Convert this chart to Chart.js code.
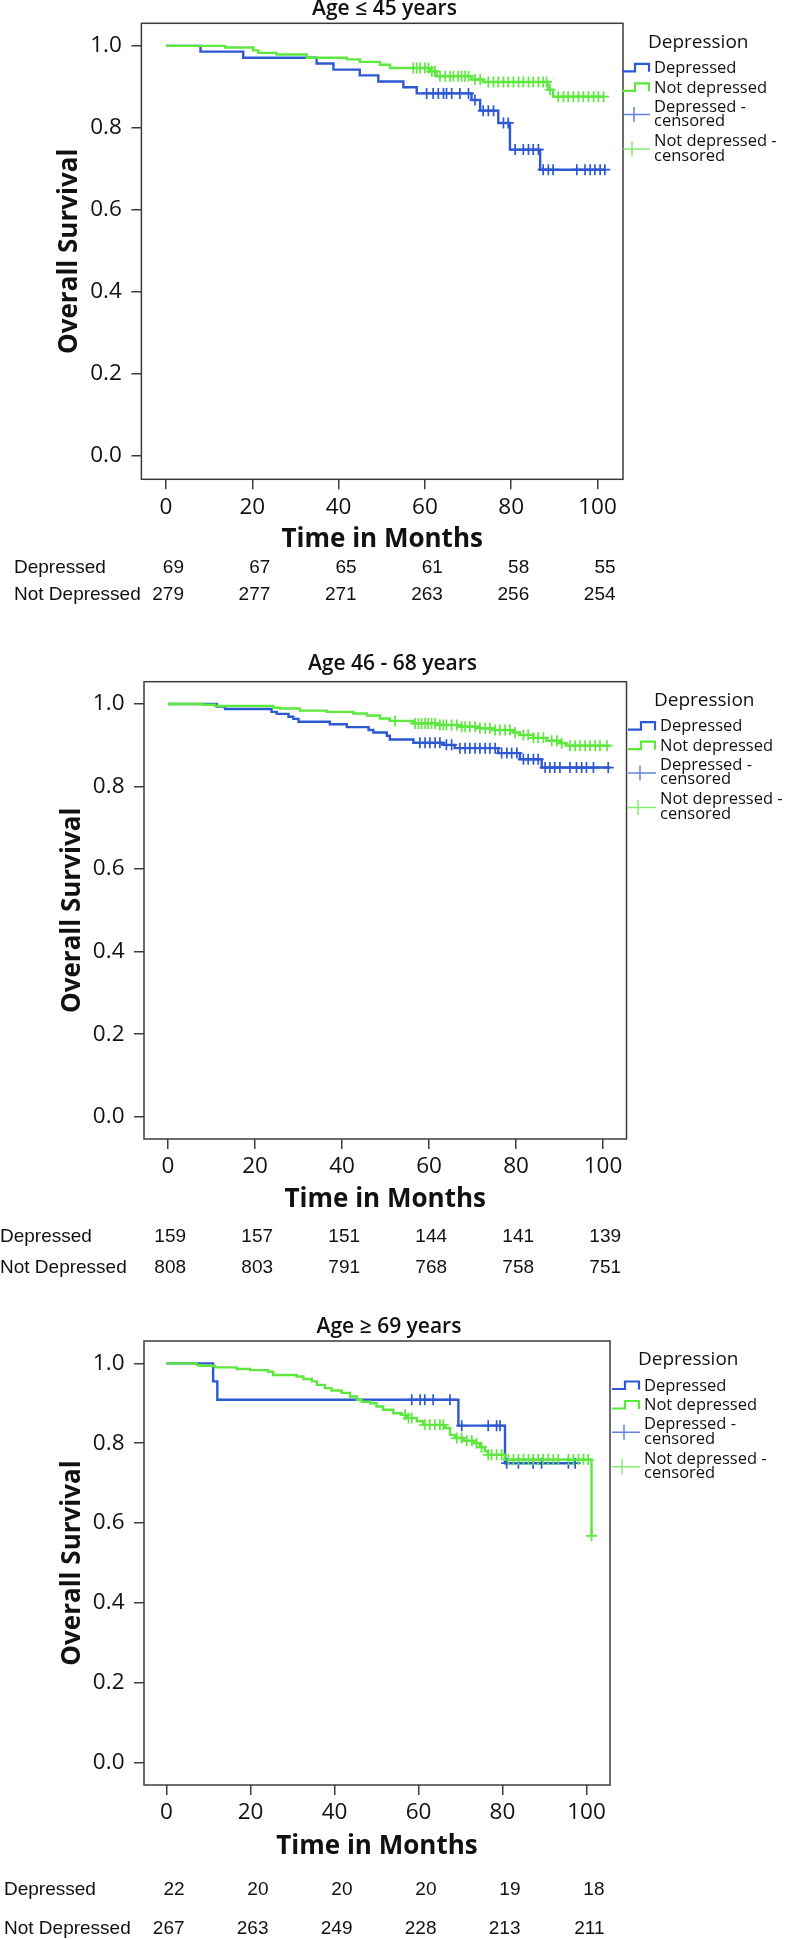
<!DOCTYPE html>
<html>
<head>
<meta charset="utf-8">
<script src="https://cdn.jsdelivr.net/npm/chart.js@4.4.1/dist/chart.umd.min.js"></script>
<style>
  html, body { margin: 0; padding: 0; background: #fff; }
  body { width: 786px; height: 1940px; position: relative; overflow: hidden; }
  .panel { position: absolute; left: 0; width: 786px; }
</style>
</head>
<body>
<div class="panel" style="top:0px;height:620px"><canvas id="km1" width="786" height="620"></canvas></div>
<div class="panel" style="top:640px;height:650px"><canvas id="km2" width="786" height="650"></canvas></div>
<div class="panel" style="top:1290px;height:650px"><canvas id="km3" width="786" height="650"></canvas></div>
<script>
// axis ticks and labels
const xTicks = [0, 20, 40, 60, 80, 100];
const yTicks = [0, 0.2, 0.4, 0.6, 0.8, 1.0];
const panelTitles = ["Age ≤ 45 years", "Age 46 - 68 years", "Age ≥ 69 years"];
const legendTitle = "Depression";
const legendLabels = ["Depressed", "Not depressed", ["Depressed -", "censored"], ["Not depressed -", "censored"]];
const riskLabels = ["Depressed", "Not Depressed"];

// Age <= 45
const youngDepTime = [0, 8.0, 17.9, 34.9, 38.8, 44.9, 49.2, 55.0, 58.1, 70.8, 72.8, 77.0, 79.7, 86.7, 101.7];
const youngDepSurv = [1.0, 0.986, 0.971, 0.957, 0.942, 0.928, 0.913, 0.899, 0.884, 0.868, 0.842, 0.812, 0.747, 0.698, 0.698];
const youngDepCens = [60.4, 61.9, 63.1, 64.3, 65.0, 66.2, 68.1, 70.1, 71.6, 73.5, 74.7, 75.9, 78.2, 79.3, 80.9, 82.8, 84.0, 85.1, 86.3, 87.4, 88.6, 89.7, 95.2, 97.1, 98.3, 99.4, 100.6, 101.7];
const youngNotTime = [0, 13.7, 20.2, 21.4, 25.6, 32.6, 41.9, 44.9, 49.6, 51.9, 61.2, 62.7, 70.8, 73.5, 88.6, 89.7, 101.7];
const youngNotSurv = [1.0, 0.996, 0.989, 0.983, 0.979, 0.971, 0.967, 0.961, 0.954, 0.946, 0.938, 0.926, 0.918, 0.912, 0.893, 0.876, 0.876];
const youngNotCens = [57.3, 58.1, 58.9, 60.0, 60.8, 61.6, 62.3, 63.5, 64.7, 65.8, 66.6, 67.7, 68.5, 69.3, 70.1, 71.6, 72.8, 74.7, 75.9, 77.0, 78.2, 79.3, 80.5, 81.7, 82.8, 84.0, 85.1, 86.3, 87.4, 88.2, 89.0, 90.9, 92.1, 93.2, 94.4, 95.6, 96.7, 97.9, 99.1, 100.2, 101.4];
const youngRiskDep = [69, 67, 65, 61, 58, 55];
const youngRiskNot = [279, 277, 271, 263, 256, 254];

// Age 46 - 68
const midDepTime = [0, 11.2, 13.1, 23.8, 25.0, 27.7, 28.8, 30.0, 37.2, 41.1, 46.1, 47.2, 50.3, 51.0, 56.4, 63.3, 65.9, 75.9, 80.9, 85.9, 101.6];
const midDepSurv = [1.0, 0.994, 0.988, 0.981, 0.976, 0.969, 0.964, 0.957, 0.951, 0.944, 0.937, 0.931, 0.923, 0.914, 0.906, 0.901, 0.893, 0.881, 0.866, 0.846, 0.846];
const midDepCens = [57.9, 59.1, 60.2, 61.4, 62.5, 64.0, 65.2, 67.1, 68.3, 69.4, 70.6, 71.7, 72.9, 74.0, 75.2, 76.7, 77.9, 79.0, 80.2, 81.7, 82.8, 84.0, 85.1, 86.7, 87.8, 88.9, 90.1, 92.4, 93.9, 95.1, 96.2, 97.8, 101.2];
const midNotTime = [0, 8.1, 10.8, 24.2, 25.7, 30.3, 36.5, 42.6, 45.7, 48.7, 51.0, 56.4, 61.8, 67.1, 71.7, 74.8, 79.4, 80.9, 84.0, 87.0, 90.1, 91.6, 101.6];
const midNotSurv = [1.0, 0.998, 0.995, 0.991, 0.989, 0.984, 0.981, 0.977, 0.972, 0.965, 0.959, 0.953, 0.949, 0.945, 0.941, 0.937, 0.931, 0.925, 0.918, 0.911, 0.905, 0.899, 0.899];
const midNotCens = [52.2, 56.8, 57.6, 58.3, 59.1, 59.8, 60.6, 61.4, 62.5, 63.3, 64.0, 65.2, 66.4, 67.5, 68.3, 69.4, 70.6, 71.7, 72.9, 74.0, 75.2, 76.3, 77.5, 78.6, 79.8, 81.7, 82.8, 84.0, 85.1, 86.3, 88.2, 89.4, 90.5, 92.4, 93.6, 94.7, 95.9, 97.0, 98.2, 99.3, 100.9];
const midRiskDep = [159, 157, 151, 144, 141, 139];
const midRiskNot = [808, 803, 791, 768, 758, 751];

// Age >= 69
const oldDepTime = [0, 11.1, 12.1, 69.5, 80.6, 97.3];
const oldDepSurv = [1.0, 0.955, 0.909, 0.844, 0.750, 0.750];
const oldDepCens = [58.4, 60.4, 61.5, 63.5, 67.5, 70.3, 76.6, 78.6, 79.4, 81.0, 83.8, 87.3, 89.3, 95.7, 97.3];
const oldNotTime = [0, 7.2, 8.0, 11.5, 16.7, 19.9, 24.2, 25.4, 31.0, 32.6, 34.6, 35.8, 37.7, 39.3, 41.7, 43.7, 45.3, 46.5, 48.5, 50.0, 51.6, 54.0, 56.0, 57.2, 59.6, 61.1, 66.3, 67.5, 68.7, 70.7, 73.1, 74.6, 75.8, 76.6, 80.6, 101.2];
const oldNotSurv = [1.0, 0.996, 0.994, 0.990, 0.986, 0.983, 0.979, 0.971, 0.967, 0.961, 0.955, 0.946, 0.938, 0.932, 0.926, 0.917, 0.909, 0.904, 0.900, 0.892, 0.884, 0.875, 0.871, 0.863, 0.855, 0.846, 0.838, 0.821, 0.813, 0.806, 0.800, 0.790, 0.780, 0.771, 0.759, 0.568];
const oldNotCens = [56.8, 57.6, 58.4, 61.5, 62.7, 63.9, 65.1, 65.9, 69.1, 70.3, 71.5, 72.7, 73.8, 75.0, 76.6, 77.4, 78.6, 79.8, 81.4, 82.6, 83.8, 85.0, 86.2, 87.3, 88.5, 89.7, 90.9, 92.1, 93.3, 95.7, 96.9, 98.1, 99.3, 100.4, 101.2];
const oldRiskDep = [22, 20, 20, 20, 19, 18];
const oldRiskNot = [267, 263, 249, 228, 213, 211];

const depColor = "rgb(44, 88, 212)";
const notColor = "rgb(92, 232, 62)";
const axisColor = "#3c3c3c";
const textColor = "#111";

Chart.defaults.font.family = '"Open Sans", sans-serif';
Chart.defaults.color = textColor;

// value of the step curve at time t (used to place censor marks)
function survAt(times, surv, t) {
    let v = surv[0];
    for (let i = 0; i < times.length; i++) {
        if (times[i] <= t) v = surv[i];
    }
    return v;
}

function decor(L) {
    return {
        id: "kmDecor",
        beforeDatasetsDraw(chart) {
            const { ctx, chartArea: a } = chart;
            ctx.save();
            ctx.strokeStyle = axisColor;
            ctx.lineWidth = 1.5;
            ctx.strokeRect(a.left, a.top, a.right - a.left, a.bottom - a.top);
            ctx.restore();
        },
        afterDraw(chart) {
            const { ctx, chartArea: a, scales: { x } } = chart;
            ctx.save();
            ctx.fillStyle = textColor;
            ctx.textBaseline = "middle";

            // panel title
            ctx.font = '600 21px "Open Sans"';
            ctx.textAlign = "center";
            ctx.fillText(L.title, L.titleX, L.titleY);

            // legend
            const lx = L.legendX, top = a.top;
            ctx.textAlign = "left";
            ctx.font = '19px "Open Sans"';
            ctx.fillText(legendTitle, lx + 26, top + 19);
            ctx.font = '16.5px "Open Sans"';
            [[depColor, 45], [notColor, 64.5]].forEach(([c, dy], i) => {
                const y = top + dy;
                ctx.strokeStyle = c;
                ctx.lineWidth = 2.2;
                ctx.beginPath();
                ctx.moveTo(lx, y + 3);
                ctx.lineTo(lx + 13, y + 3);
                ctx.lineTo(lx + 13, y - 4.5);
                ctx.lineTo(lx + 27, y - 4.5);
                ctx.lineTo(lx + 27, y + 3.5);
                ctx.stroke();
                ctx.fillText(legendLabels[i], lx + 32, y);
            });
            [[depColor, 83.5, 12], [notColor, 118, 10]].forEach(([c, dy, tx], i) => {
                const y1 = top + dy, y2 = y1 + 14.5, mid = (y1 + y2) / 2 + 0.5;
                ctx.strokeStyle = c;
                ctx.globalAlpha = 0.75;
                ctx.lineWidth = 1.5;
                ctx.beginPath();
                ctx.moveTo(lx, mid);
                ctx.lineTo(lx + 28, mid);
                ctx.moveTo(lx + tx, mid - 7.5);
                ctx.lineTo(lx + tx, mid + 7.5);
                ctx.stroke();
                ctx.globalAlpha = 1;
                ctx.fillText(legendLabels[i + 2][0], lx + 32, y1);
                ctx.fillText(legendLabels[i + 2][1], lx + 32, y2);
            });

            // numbers at risk
            ctx.font = '19px "Liberation Sans", Arial, sans-serif';
            L.risk.forEach((row, r) => {
                ctx.textAlign = "left";
                ctx.fillText(riskLabels[r], L.riskLabelX, L.riskY[r]);
                ctx.textAlign = "right";
                xTicks.forEach((t, i) => {
                    ctx.fillText(String(row[i]), x.getPixelForValue(t) + 18, L.riskY[r]);
                });
            });
            ctx.restore();
        }
    };
}

function makeChart(id, L, dep, not) {
    const curve = (times, surv) => times.map((t, i) => ({ x: t, y: surv[i] }));
    const marks = (cens, times, surv) => cens.map(t => ({ x: t, y: survAt(times, surv, t) }));
    const grid = { drawOnChartArea: false, drawTicks: true, tickLength: 10, color: axisColor, lineWidth: 1.5 };
    return new Chart(document.getElementById(id).getContext("2d"), {
        type: "line",
        data: {
            datasets: [
                { label: "Not depressed - censored", data: marks(not.cens, not.time, not.surv), showLine: false,
                  pointStyle: "cross", pointRadius: 5.5, borderColor: notColor, borderWidth: 1.7 },
                { label: "Depressed - censored", data: marks(dep.cens, dep.time, dep.surv), showLine: false,
                  pointStyle: "cross", pointRadius: 5.5, borderColor: depColor, borderWidth: 1.7 },
                { label: "Not depressed", data: curve(not.time, not.surv), stepped: "before",
                  borderColor: notColor, borderWidth: 2.4, pointRadius: 0, fill: false },
                { label: "Depressed", data: curve(dep.time, dep.surv), stepped: "before",
                  borderColor: depColor, borderWidth: 2.4, pointRadius: 0, fill: false }
            ]
        },
        options: {
            responsive: false,
            animation: false,
            devicePixelRatio: 1,
            layout: {
                padding: { left: 0, top: L.top, right: 786 - L.right, bottom: L.h - L.bottom - (L.xTitleY - L.bottom + 15.6) }
            },
            plugins: { legend: { display: false }, tooltip: { enabled: false } },
            scales: {
                x: {
                    type: "linear",
                    min: L.xMin,
                    max: L.xMax,
                    afterBuildTicks: s => { s.ticks = xTicks.map(v => ({ value: v })); },
                    afterFit: s => { s.height = L.xTitleY - L.bottom + 15.6; },
                    grid: grid,
                    border: { display: false },
                    ticks: { font: { size: 22.5 }, color: textColor, padding: 4.5, maxRotation: 0, autoSkip: false,
                             callback: v => String(v) },
                    title: { display: true, text: "Time in Months", color: textColor, padding: 0,
                             font: { size: 26, weight: "bold" } }
                },
                y: {
                    type: "linear",
                    min: L.yMin,
                    max: L.yMax,
                    afterBuildTicks: s => { s.ticks = yTicks.map(v => ({ value: v })); },
                    afterFit: s => { s.width = L.left; },
                    grid: grid,
                    border: { display: false },
                    ticks: { font: { size: 22.5 }, color: textColor, padding: 9.5, callback: v => v.toFixed(1) },
                    title: { display: true, text: "Overall Survival", color: textColor,
                             padding: { top: L.yTitleX - 15.6, bottom: 0 }, font: { size: 26, weight: "bold" } }
                }
            }
        },
        plugins: [decor(L)]
    });
}

makeChart("km1", {
    h: 620, left: 141.4, right: 623, top: 23.3, bottom: 479.3,
    xMin: -5.7, xMax: 105.9, yMin: -0.057, yMax: 1.055,
    title: panelTitles[0], titleX: 384.5, titleY: 9.5, xTitleY: 540, yTitleX: 69.5,
    legendX: 622, riskY: [567.7, 594.3], riskLabelX: 14, risk: [youngRiskDep, youngRiskNot]
}, { time: youngDepTime, surv: youngDepSurv, cens: youngDepCens },
   { time: youngNotTime, surv: youngNotSurv, cens: youngNotCens });

makeChart("km2", {
    h: 650, left: 144, right: 626.5, top: 41.7, bottom: 499,
    xMin: -5.52, xMax: 105.4, yMin: -0.054, yMax: 1.054,
    title: panelTitles[1], titleX: 392.5, titleY: 24.5, xTitleY: 559.3, yTitleX: 73,
    legendX: 628, riskY: [596.7, 628], riskLabelX: 0, risk: [midRiskDep, midRiskNot]
}, { time: midDepTime, surv: midDepSurv, cens: midDepCens },
   { time: midNotTime, surv: midNotSurv, cens: midNotCens });

makeChart("km3", {
    h: 650, left: 144, right: 610, top: 51, bottom: 495,
    xMin: -5.36, xMax: 105.6, yMin: -0.056, yMax: 1.056,
    title: panelTitles[2], titleX: 389, titleY: 37, xTitleY: 557, yTitleX: 73,
    legendX: 612, riskY: [600, 639], riskLabelX: 4, risk: [oldRiskDep, oldRiskNot]
}, { time: oldDepTime, surv: oldDepSurv, cens: oldDepCens },
   { time: oldNotTime, surv: oldNotSurv, cens: oldNotCens });
</script>
</body>
</html>
